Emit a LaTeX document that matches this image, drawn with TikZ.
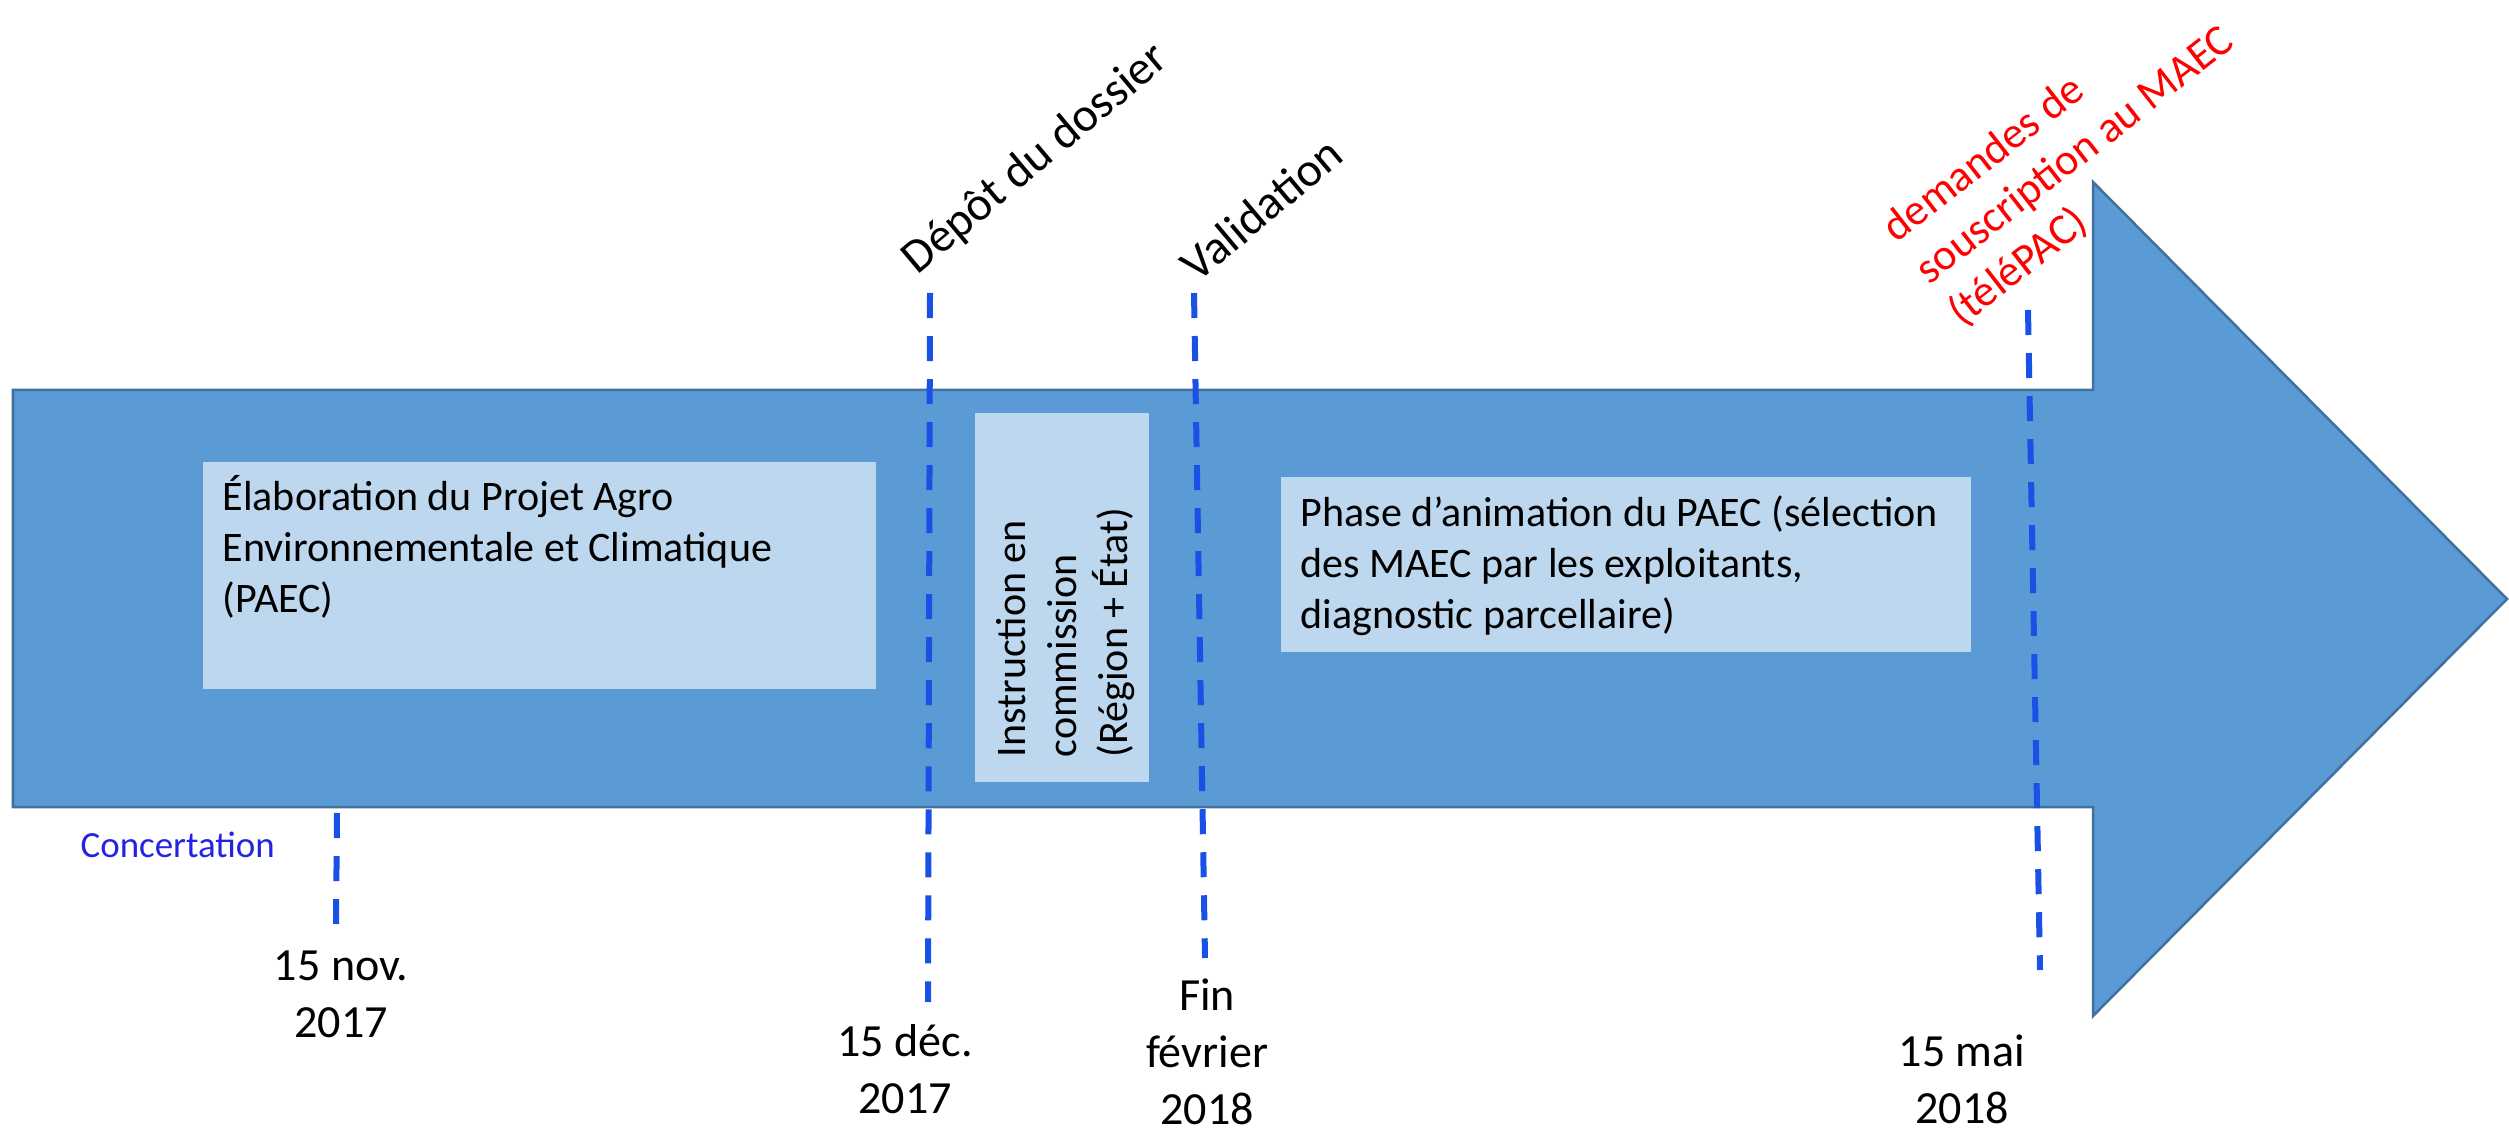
\documentclass[tikz,border=0pt]{standalone}
\usepackage{fontspec}
\setmainfont{Carlito}
\definecolor{arrowfill}{HTML}{5B9BD5}
\definecolor{arrowline}{HTML}{41719C}
\definecolor{boxfill}{HTML}{BDD7EE}
\definecolor{dashblue}{RGB}{25,80,230}
\definecolor{concblue}{RGB}{35,35,230}
\newcommand\firstln[1]{\rule{0pt}{#1}}
\begin{document}
\begin{tikzpicture}[x=0.01cm,y=-0.01cm,
  boxbg/.style={fill=boxfill, draw=none, inner sep=0, anchor=north west},
  boxtext/.style={font=\fontsize{11.95}{14.5}\selectfont, align=left, inner sep=0, anchor=north west},
  datetxt/.style={font=\fontsize{13.1}{16.2}\selectfont, align=center, inner sep=0, anchor=north},
  steplabel/.style={font=\fontsize{13.6}{16}\selectfont, rotate=40, anchor=base west, inner sep=0},
  redlabel/.style={font=\fontsize{12.5}{15.1}\selectfont, text=red, align=left, rotate=38, anchor=north west, inner sep=0},
  dashline/.style={draw=dashblue, line width=0.06cm, dash pattern=on 0.25cm off 0.18cm}
]
\useasboundingbox (0,0) rectangle (2509,1131);

% big arrow
\path[draw=arrowline, fill=arrowfill, line width=0.025cm, line join=miter]
  (13,390) -- (2093,390) -- (2093,182) -- (2507,599) -- (2093,1016) -- (2093,807) -- (13,807) -- cycle;

% boxes
\node (elabbox) [boxbg, minimum width=6.73cm, minimum height=2.27cm] at (202,461) {};
\node (instrbox) [boxbg, minimum width=1.74cm, minimum height=3.69cm] at (974,412) {};
\node (phasebox) [boxbg, minimum width=6.90cm, minimum height=1.75cm] at (1280,476) {};

\node (elabtxt) [boxtext] at (222,470) {\firstln{0.4cm}Élaboration du Projet Agro\\Environnementale et Climatique\\(PAEC)};
\node (instrtxt) [boxtext, rotate=90] at (985,758) {\firstln{0.4cm}Instruction en\\commission\\(Région + État)};
\node (phasetxt) [boxtext] at (1300,486) {\firstln{0.4cm}Phase d’animation du PAEC (sélection\\des MAEC par les exploitants,\\diagnostic parcellaire)};

% dashed markers
\coordinate (c1a) at (337,813); \coordinate (c1b) at (336,924);
\coordinate (c2a) at (930,293); \coordinate (c2b) at (928,1002);
\coordinate (c3a) at (1194,293); \coordinate (c3b) at (1205,958);
\coordinate (c4a) at (2028,310); \coordinate (c4b) at (2040,970);
\draw[dashline] (c1a) -- (c1b);
\draw[dashline] (c2a) -- (c2b);
\draw[dashline] (c3a) -- (c3b);
\draw[dashline] (c4a) -- (c4b);

% labels
\node (conc) [anchor=base west, inner sep=0, font=\fontsize{10.5}{12}\selectfont, text=concblue] at (80,857) {Concertation};
\node (d1) [datetxt] at (341,936) {\firstln{0.44cm}15 nov.\\2017};
\node (d2) [datetxt] at (905,1012) {\firstln{0.44cm}15 déc.\\2017};
\node (d3) [datetxt] at (1207,966) {\firstln{0.44cm}Fin\\février\\2018};
\node (d4) [datetxt] at (1962,1022) {\firstln{0.44cm}15 mai\\2018};

\node (depot) [steplabel] at (917,276) {Dépôt du dossier};
\node (valid) [steplabel] at (1197,284) {Validation};
\node (telepac) [redlabel] at (1871,212) {\firstln{0.4cm}demandes de\\souscription au MAEC\\(téléPAC)};
\end{tikzpicture}
\end{document}
